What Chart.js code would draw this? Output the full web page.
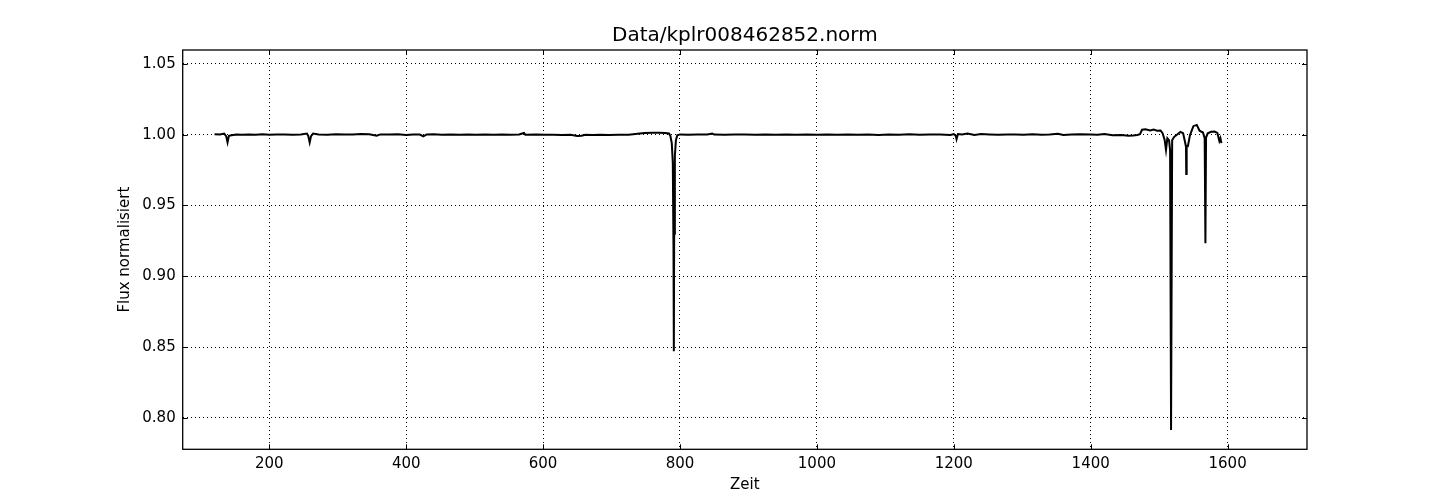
<!DOCTYPE html>
<html>
<head>
<meta charset="utf-8">
<script src="https://cdn.jsdelivr.net/npm/chart.js@4/dist/chart.umd.min.js"></script>
<style>
  html, body { margin: 0; padding: 0; background: #fff; }
  #wrap { width: 1453px; height: 500px; }
</style>
</head>
<body>
<div id="wrap"><canvas id="lightCurve"></canvas></div>
<script>
// Zeit (days) and normalised flux
const zeit = [
  120, 128, 134, 137, 139, 141, 145, 152, 160, 170, 180, 190, 200, 210, 222, 234, 246, 255, 257, 259,
  261, 264, 272, 285, 297, 310, 322, 334, 346, 357, 362, 375, 388, 400, 410, 420, 425, 430, 440, 452,
  465, 478, 490, 502, 515, 528, 540, 552, 565, 572, 574, 590, 603, 615, 627, 640, 650, 656, 662, 672,
  684, 696, 710, 725, 738, 748, 760, 770, 778, 784, 786, 788, 789.5, 790.5, 791, 791.5, 792.5, 794, 796, 800,
  812, 825, 840, 847, 850, 865, 880, 895, 910, 925, 940, 955, 970, 985, 1000, 1015, 1030, 1045, 1060, 1075,
  1090, 1105, 1120, 1135, 1150, 1165, 1180, 1195, 1200, 1203, 1204, 1206, 1212, 1220, 1230, 1240, 1252, 1265, 1278, 1290,
  1302, 1315, 1328, 1340, 1352, 1360, 1372, 1385, 1400, 1410, 1420, 1432, 1445, 1455, 1462, 1468, 1472, 1475, 1480, 1487,
  1492, 1497, 1502, 1505, 1508, 1510, 1512, 1514.5, 1516, 1517.4, 1519, 1522, 1526, 1531, 1535, 1537.5, 1539.2, 1539.6, 1540.2, 1542,
  1545, 1550, 1555, 1559, 1564, 1566.5, 1567.6, 1568.5, 1571, 1576, 1581, 1585, 1588, 1589.5, 1591
];
const flux = [
  1.0003, 1.0002, 1.0008, 0.9990, 0.9945, 0.9992, 0.9996, 1.0001, 0.9999, 1.0002, 1.0000, 1.0003, 0.9999, 1.0001, 1.0002, 0.9999, 1.0002, 1.0008, 0.9990, 0.9945,
  0.9990, 1.0008, 1.0002, 1.0000, 1.0003, 1.0001, 1.0002, 1.0004, 1.0003, 0.9993, 1.0002, 1.0001, 1.0003, 0.9998, 1.0002, 1.0001, 0.9988, 1.0002, 1.0003, 0.9999,
  1.0001, 1.0000, 1.0001, 0.9999, 1.0001, 1.0000, 1.0002, 0.9999, 1.0001, 1.0012, 1.0000, 1.0001, 0.9999, 1.0000, 0.9998, 0.9999, 0.9990, 0.9992, 1.0000, 0.9997,
  1.0000, 0.9998, 1.0000, 0.9999, 1.0006, 1.0012, 1.0014, 1.0013, 1.0012, 1.0008, 0.9990, 0.9940, 0.9800, 0.9200, 0.8470, 0.9300, 0.9850, 0.9960, 0.9995, 1.0002,
  1.0000, 1.0001, 1.0001, 1.0008, 1.0001, 1.0000, 1.0001, 1.0002, 0.9999, 1.0001, 1.0000, 1.0002, 0.9999, 1.0001, 1.0000, 1.0002, 0.9999, 1.0001, 1.0000, 1.0002,
  0.9998, 1.0001, 1.0000, 1.0003, 1.0000, 1.0002, 1.0001, 0.9998, 1.0004, 0.9990, 0.9968, 1.0005, 1.0002, 1.0008, 0.9998, 1.0004, 1.0002, 0.9999, 1.0002, 1.0001,
  0.9999, 1.0003, 1.0000, 1.0002, 1.0006, 0.9998, 1.0001, 1.0003, 1.0002, 1.0000, 1.0004, 0.9996, 0.9998, 0.9993, 0.9995, 0.9998, 1.0003, 1.0035, 1.0038, 1.0030,
  1.0036, 1.0028, 1.0030, 1.0010, 0.9965, 0.9892, 0.9975, 0.9960, 0.9890, 0.7915, 0.9960, 0.9985, 1.0000, 1.0020, 1.0010, 0.9955, 0.9915, 0.9723, 0.9915, 0.9918,
  0.9995, 1.0060, 1.0069, 1.0028, 1.0015, 0.9975, 0.9233, 0.9980, 1.0010, 1.0020, 1.0022, 1.0012, 0.9955, 0.9975, 0.9940
];
const xTicks = [200, 400, 600, 800, 1000, 1200, 1400, 1600];
const yTicks = [0.80, 0.85, 0.90, 0.95, 1.00, 1.05];
const chartTitle = 'Data/kplr008462852.norm';

const font = 'DejaVu Sans';

// frame round the plot area, matplotlib style inward ticks, title over the plot area
const frameTicks = {
  id: 'frameTicks',
  afterDraw(chart) {
    const { ctx, chartArea: a, scales } = chart;
    ctx.save();
    ctx.strokeStyle = '#000';
    ctx.lineWidth = 1;
    ctx.beginPath();
    xTicks.forEach(v => {
      const px = Math.round(scales.x.getPixelForValue(v)) + 0.5;
      ctx.moveTo(px, a.bottom); ctx.lineTo(px, a.bottom - 5);
      ctx.moveTo(px, a.top); ctx.lineTo(px, a.top + 5);
    });
    yTicks.forEach(v => {
      const py = Math.round(scales.y.getPixelForValue(v)) + 0.5;
      ctx.moveTo(a.left, py); ctx.lineTo(a.left + 5, py);
      ctx.moveTo(a.right, py); ctx.lineTo(a.right - 5, py);
    });
    ctx.stroke();
    ctx.lineWidth = 1.3;
    ctx.strokeRect(a.left, a.top, a.right - a.left, a.bottom - a.top);

    ctx.fillStyle = '#000';
    ctx.font = '20px "' + font + '"';
    ctx.textAlign = 'center';
    ctx.textBaseline = 'middle';
    ctx.fillText(chartTitle, (a.left + a.right) / 2, 36);
    ctx.restore();
  }
};

Chart.defaults.font.family = font;
Chart.defaults.color = '#000';

new Chart(document.getElementById('lightCurve'), {
  type: 'line',
  data: {
    datasets: [{
      data: zeit.map((t, i) => ({ x: t, y: flux[i] })),
      borderColor: '#000',
      borderWidth: 2,
      pointRadius: 0,
      tension: 0,
      fill: false
    }]
  },
  options: {
    responsive: true,
    maintainAspectRatio: false,
    animation: false,
    layout: { padding: { left: 0, right: 146, top: 50, bottom: 0 } },
    plugins: {
      legend: { display: false },
      tooltip: { enabled: false },
      title: { display: false }
    },
    scales: {
      x: {
        type: 'linear',
        min: 73.5,
        max: 1716,
        afterBuildTicks: s => { s.ticks = xTicks.map(v => ({ value: v })); },
        afterFit: s => { s.height = 50.7; },
        grid: { color: '#000', lineWidth: 1, drawTicks: false },
        border: { display: false, dash: [1, 3] },
        ticks: { font: { size: 15 }, padding: 6, maxRotation: 0, callback: v => String(v) },
        title: { display: true, text: 'Zeit', font: { size: 15 }, padding: { top: 0, bottom: 6 } }
      },
      y: {
        type: 'linear',
        min: 0.7778,
        max: 1.0598,
        afterBuildTicks: s => { s.ticks = yTicks.map(v => ({ value: v })); },
        afterFit: s => { s.width = 182.7; },
        grid: { color: '#000', lineWidth: 1, drawTicks: false },
        border: { display: false, dash: [1, 3] },
        ticks: { font: { size: 15 }, padding: 7, callback: v => v.toFixed(2) },
        title: { display: true, text: 'Flux normalisiert', font: { size: 15 }, padding: { top: 116, bottom: 0 } }
      }
    }
  },
  plugins: [frameTicks]
});
</script>
</body>
</html>
